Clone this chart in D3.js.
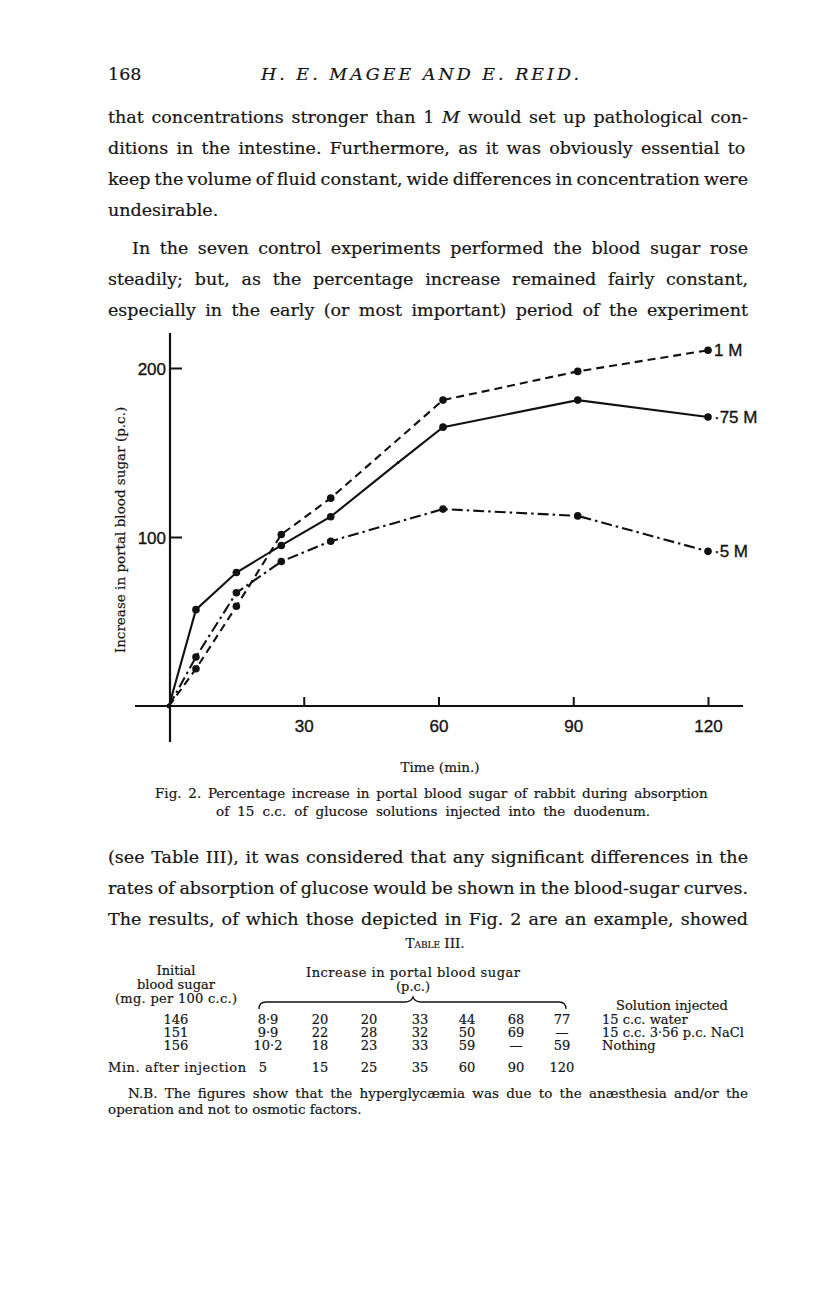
<!DOCTYPE html>
<html>
<head>
<meta charset="utf-8">
<script src="https://cdn.jsdelivr.net/npm/d3@7/dist/d3.min.js"></script>
<style>
  html, body { margin: 0; padding: 0; background: #fff; }
  svg text { fill: #151515; }
  .serif { font-family: "DejaVu Serif", serif; }
  .serif text { stroke: #151515; stroke-width: 0.2px; }
  .sans { font-family: "Liberation Sans", Arial, sans-serif; stroke: #111; stroke-width: 0.35px; }
</style>
</head>
<body>
<div id="page"></div>
<script>
// Fig. 2 values (minutes after injection, % increase)
const minutes = [0, 6, 15, 25, 36, 61, 91, 120];
const oneM = [0, 22, 59, 101.5, 123, 181, 198, 210.5];
const halfM = [0, 29, 67, 85.5, 97.5, 116.5, 112.5, 91.5];
const threeQuarterMinutes = [0, 6, 15, 25, 36, 51, 61, 91, 120];
const threeQuarterM = [0, 57, 79, 95, 112, 144, 165, 181, 171];
const seriesLabels = ["1 M", "·75 M", "·5 M"];
const xTicks = [30, 60, 90, 120];
const yTicks = [100, 200];

// Table III
const tableMinutes = ["5", "15", "25", "35", "60", "90", "120"];
const initialSugar = ["146", "151", "156"];
const rowWater = ["8·9", "20", "20", "33", "44", "68", "77"];
const rowSaline = ["9·9", "22", "28", "32", "50", "69", "—"];
const rowNothing = ["10·2", "18", "23", "33", "59", "—", "59"];
const solutions = ["15 c.c. water", "15 c.c. 3·56 p.c. NaCl", "Nothing"];

const W = 816, H = 1296;
const left = 108, right = 748;

const svg = d3.select("#page").append("svg")
  .attr("width", W)
  .attr("height", H)
  .attr("viewBox", [0, 0, W, H].join(" "));
svg.append("rect").attr("width", W).attr("height", H).attr("fill", "#fff");

const page = svg.append("g").attr("class", "serif");

// stretch the spaces of a line so it fills the column
function justify(t, width) {
  var natural = t.node().getComputedTextLength();
  var spaces = (t.text().match(/ /g) || []).length;
  if (spaces) t.attr("word-spacing", (width - natural) / spaces);
  return t;
}

function line(str, x, y, size, opts) {
  opts = opts || {};
  var t = page.append("text")
    .attr("x", x)
    .attr("y", y)
    .attr("font-size", size)
    .attr("text-anchor", opts.anchor || "start")
    .text(str);
  if (opts.italic) t.attr("font-style", "italic");
  if (opts.width) justify(t, opts.width);
  return t;
}

// running head
line("168", left, 80, 17.5);
line("H. E. MAGEE AND E. REID.", 420, 80, 17.5, {anchor: "middle", italic: true})
  .attr("textLength", 318).attr("lengthAdjust", "spacing");

// first paragraph (line 1 has an italic M)
var l1 = page.append("text").attr("x", left).attr("y", 123).attr("font-size", 17.5);
l1.append("tspan").text("that concentrations stronger than 1 ");
l1.append("tspan").attr("font-style", "italic").text("M");
l1.append("tspan").text(" would set up pathological con-");
justify(l1, right - left);

line("ditions in the intestine.  Furthermore, as it was obviously essential to", left, 154, 17.5, {width: right - left});
line("keep the volume of fluid constant, wide differences in concentration were", left, 185, 17.5, {width: right - left});
line("undesirable.", left, 216, 17.5);
line("In the seven control experiments performed the blood sugar rose", left + 24, 254, 17.5, {width: right - left - 24});
line("steadily; but, as the percentage increase remained fairly constant,", left, 285, 17.5, {width: right - left});
line("especially in the early (or most important) period of the experiment", left, 316, 17.5, {width: right - left});

// ---- the chart ----
const x = d3.scaleLinear().domain([0, 120]).range([169, 708]);
const y = d3.scaleLinear().domain([0, 200]).range([706, 368]);

const chart = svg.append("g").attr("class", "chart");

// axes: ticks point into the plot
const xAxis = chart.append("g")
  .attr("transform", "translate(0," + y(0) + ")")
  .call(d3.axisBottom(x).tickValues(xTicks).tickSize(-9).tickPadding(14).tickSizeOuter(0));
const yAxis = chart.append("g")
  .attr("transform", "translate(" + x(0) + ",0)")
  .call(d3.axisLeft(y).tickValues(yTicks).tickSize(-13).tickPadding(3).tickSizeOuter(0));

[xAxis, yAxis].forEach(function(a) {
  a.select(".domain").remove();
  a.selectAll("line").attr("stroke", "#111").attr("stroke-width", 2);
  a.selectAll("text")
    .attr("class", "sans")
    .attr("font-size", 17)
    .attr("fill", "#111");
});
yAxis.selectAll("text").attr("dy", "0.36em");

// long axis lines, drawn past the plotted range as in the print
chart.append("line")
  .attr("x1", 135).attr("x2", 743)
  .attr("y1", y(0)).attr("y2", y(0))
  .attr("stroke", "#111").attr("stroke-width", 2.2);
chart.append("line")
  .attr("x1", x(0) + 1).attr("x2", x(0) + 1)
  .attr("y1", 333).attr("y2", 742)
  .attr("stroke", "#111").attr("stroke-width", 2.2);

const series = [
  {t: minutes, v: oneM, dash: "8,5", label: seriesLabels[0]},
  {t: threeQuarterMinutes, v: threeQuarterM, dash: null, label: seriesLabels[1]},
  {t: minutes, v: halfM, dash: "11,4,2.5,4", label: seriesLabels[2]}
];

const path = d3.line().x(function(d) { return x(d[0]); }).y(function(d) { return y(d[1]); });

series.forEach(function(s) {
  var pts = d3.zip(s.t, s.v);
  chart.append("path")
    .datum(pts)
    .attr("d", path)
    .attr("fill", "none")
    .attr("stroke", "#111")
    .attr("stroke-width", 2.1)
    .attr("stroke-dasharray", s.dash);
  chart.append("g")
    .selectAll("circle")
    .data(pts)
    .enter()
    .append("circle")
    .attr("cx", function(d) { return x(d[0]); })
    .attr("cy", function(d) { return y(d[1]); })
    // the bend at ~51 min on the .75 M curve has no dot
    .attr("r", function(d) { return d[0] === 0 ? 2.2 : (minutes.indexOf(d[0]) < 0 ? 1.4 : 3.8); })
    .attr("fill", "#111");
  var last = pts[pts.length - 1];
  chart.append("text")
    .attr("class", "sans")
    .attr("x", x(last[0]) + 6)
    .attr("y", y(last[1]))
    .attr("dy", "0.36em")
    .attr("font-size", 17)
    .text(s.label);
});

// axis titles
page.append("text")
  .attr("transform", "translate(125,530) rotate(-90)")
  .attr("text-anchor", "middle")
  .attr("font-size", 13.5)
  .text("Increase in portal blood sugar (p.c.)");
line("Time (min.)", 440, 772, 13.5, {anchor: "middle"});

// caption
line("Fig. 2.  Percentage increase in portal blood sugar of rabbit during absorption", 155, 798, 13.5, {width: 555});
line("of 15 c.c. of glucose solutions injected into the duodenum.", 216, 816, 13.5, {width: 434});

// third paragraph
line("(see Table III), it was considered that any significant differences in the", left, 863, 17.5, {width: right - left});
line("rates of absorption of glucose would be shown in the blood-sugar curves.", left, 894, 17.5, {width: right - left});
line("The results, of which those depicted in Fig. 2 are an example, showed", left, 925, 17.5, {width: right - left});

// ---- Table III ----
line("Table III.", 435, 948, 13.5, {anchor: "middle"}).style("font-variant", "small-caps");

const colX = [268, 320, 369, 420, 467, 516, 562];
const rowY = [1024, 1037, 1050];
const ts = 13;

line("Initial", 176, 975, ts, {anchor: "middle"});
line("blood sugar", 176, 989, ts, {anchor: "middle"});
line("(mg. per 100 c.c.)", 176, 1003, ts, {anchor: "middle"}).attr("textLength", 122).attr("lengthAdjust", "spacing");
line("Increase in portal blood sugar", 413, 977, ts, {anchor: "middle"}).attr("textLength", 214).attr("lengthAdjust", "spacing");
line("(p.c.)", 413, 991, ts, {anchor: "middle"});
line("Solution injected", 672, 1010, ts, {anchor: "middle"});

// brace under the column head
page.append("path")
  .attr("d", "M259,1009 Q259,1002 266,1002 L405,1002 Q411,1002 413,997 Q415,1002 421,1002 L559,1002 Q566,1002 566,1009")
  .attr("fill", "none")
  .attr("stroke", "#111")
  .attr("stroke-width", 1.3);

[rowWater, rowSaline, rowNothing].forEach(function(row, i) {
  line(initialSugar[i], 176, rowY[i], ts, {anchor: "middle"});
  row.forEach(function(v, j) {
    line(v, colX[j], rowY[i], ts, {anchor: "middle"});
  });
  line(solutions[i], 602, rowY[i], ts);
});

line("Min. after injection", left, 1072, ts).attr("textLength", 138).attr("lengthAdjust", "spacing");
tableMinutes.forEach(function(v, j) {
  line(v, j === 0 ? colX[j] - 5 : colX[j], 1072, ts, {anchor: "middle"});
});

line("N.B. The figures show that the hyperglycæmia was due to the anæsthesia and/or the", left + 20, 1098, 13.5, {width: right - left - 20});
line("operation and not to osmotic factors.", left, 1114, 13.5);
</script>
</body>
</html>
